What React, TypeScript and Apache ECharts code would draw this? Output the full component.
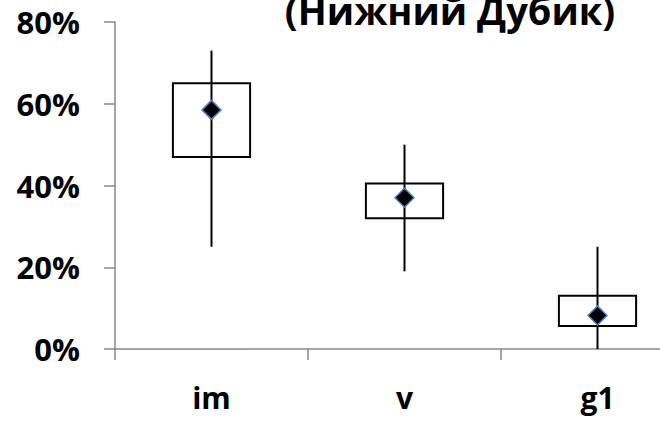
import React, { useEffect, useRef } from "react";
import * as echarts from "echarts";

const categories = ["im", "v", "g1"];
const lowValues = [0.25, 0.19, 0.0];
const q1Values = [0.47, 0.32, 0.056];
const q3Values = [0.65, 0.405, 0.13];
const highValues = [0.73, 0.5, 0.25];
const meanValues = [0.585, 0.37, 0.082];
const titleText = "(Нижний Дубик)";

export default function App() {
  const ref = useRef<HTMLDivElement>(null);
  useEffect(() => {
    if (!ref.current) return;
    const chart = echarts.init(ref.current, null, { renderer: "svg" });
    const boxData = categories.map((_, i) => [i, lowValues[i], q1Values[i], q3Values[i], highValues[i]]);
    const meanData = categories.map((_, i) => [i, meanValues[i]]);
    const font = '"Open Sans", "DejaVu Sans", sans-serif';
    chart.setOption({
      animation: false,
      backgroundColor: "#ffffff",
      grid: { left: 115, top: 22, right: 6, bottom: 72 },
      graphic: [
        {
          type: "text",
          x: 450,
          y: 10,
          style: {
            text: titleText,
            font: `bold 38px ${font}`,
            fill: "#000",
            textAlign: "center",
            textVerticalAlign: "middle",
          },
        },
      ],
      xAxis: {
        type: "category",
        data: categories,
        boundaryGap: true,
        axisLine: { show: true, lineStyle: { color: "#878787", width: 1.5 } },
        axisTick: { show: true, length: 11, lineStyle: { color: "#878787", width: 1.5 } },
        axisLabel: { fontFamily: font, fontWeight: "bold", fontSize: 30, color: "#000", margin: 33 },
        splitLine: { show: false },
      },
      yAxis: {
        type: "value",
        min: 0,
        max: 0.8,
        interval: 0.2,
        axisLine: { show: true, lineStyle: { color: "#878787", width: 1.5 } },
        axisTick: { show: true, length: 11, lineStyle: { color: "#878787", width: 1.5 } },
        axisLabel: {
          fontFamily: font,
          fontWeight: "bold",
          fontSize: 31,
          color: "#000",
          margin: 35,
          formatter: (v: number) => `${Math.round(v * 100)}%`,
        },
        splitLine: { show: false },
      },
      series: [
        {
          type: "custom",
          data: boxData,
          encode: { x: 0, y: [1, 2, 3, 4] },
          renderItem: (params: any, api: any) => {
            const x = api.value(0);
            const low = api.coord([x, api.value(1)]);
            const q1 = api.coord([x, api.value(2)]);
            const q3 = api.coord([x, api.value(3)]);
            const high = api.coord([x, api.value(4)]);
            const band = api.size([1, 0])[0];
            const w = band * 0.4;
            return {
              type: "group",
              children: [
                {
                  type: "line",
                  shape: { x1: low[0], y1: low[1], x2: high[0], y2: high[1] },
                  style: { stroke: "#000", lineWidth: 2 },
                },
                {
                  type: "rect",
                  shape: { x: q3[0] - w / 2, y: q3[1], width: w, height: q1[1] - q3[1] },
                  style: { fill: "none", stroke: "#000", lineWidth: 2 },
                },
              ],
            };
          },
          z: 2,
        },
        {
          type: "scatter",
          data: meanData,
          symbol: "diamond",
          symbolSize: 19,
          itemStyle: { color: "#000", borderColor: "#4f81bd", borderWidth: 1.5, opacity: 1 },
          z: 3,
        },
      ],
    });
    return () => chart.dispose();
  }, []);
  return (
    <div
      style={{ position: "fixed", left: 0, top: 0, width: 660, height: 421, overflow: "hidden", background: "#fff" }}
    >
      <div ref={ref} style={{ width: 700, height: 421 }} />
    </div>
  );
}
